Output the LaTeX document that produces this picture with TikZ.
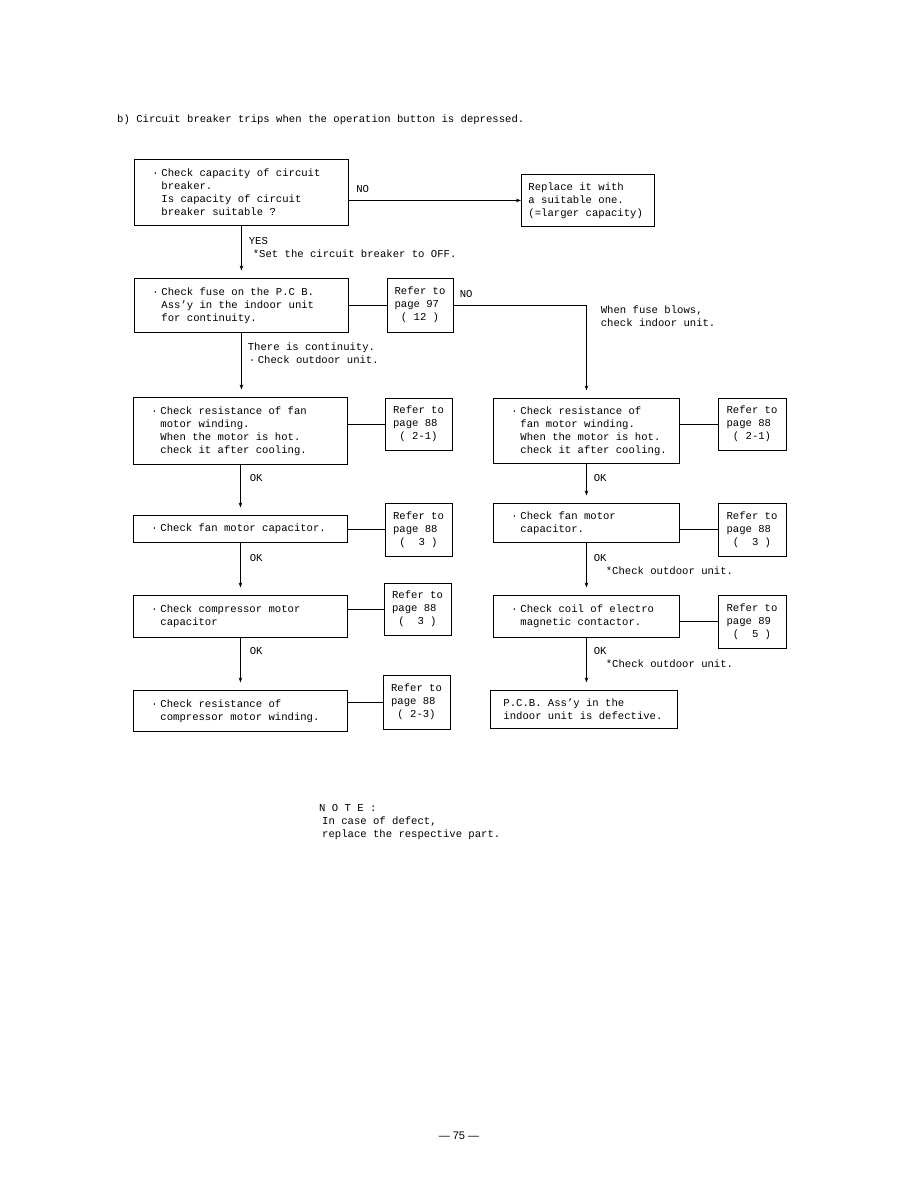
\documentclass[tikz,border=0pt]{standalone}
\usepackage{fontspec}
\setmainfont{Liberation Mono}[WordSpace={1,0,0}]
\newfontfamily\pnfont{Liberation Sans}
\usetikzlibrary{arrows.meta,calc,positioning}
\renewcommand{\normalsize}{\fontsize{10.6}{13}\selectfont}
\newcommand{\dotb}{\makebox[9pt][l]{·}}
\newcommand{\bul}{\hspace*{8pt}\dotb}
\newcommand{\ind}{\hspace*{17pt}}

\begin{document}
\normalsize
\begin{tikzpicture}[x=1pt,y=-1pt,>=Stealth,
  font=\normalsize,
  box/.style={draw,line width=0.9pt,anchor=north west,align=flush left,inner xsep=10pt,inner ysep=0pt},
  refbox/.style={draw,line width=0.9pt,align=left,minimum width=67pt,minimum height=53pt,inner sep=0pt},
  lbl/.style={anchor=north west,align=left,inner sep=0pt},
  link/.style={line width=0.8pt},
  arr/.style={link,-{Stealth[length=5pt,width=3.5pt]}},
  gap/.style={arr,shorten >=7.5pt}]
  \useasboundingbox (0,0) rectangle (918,1188);

  % heading
  \node[anchor=west,inner sep=0pt] (title) at (117,120)
        {b) Circuit breaker trips when the operation button is depressed.};

  % top row: breaker capacity
  \node[box,text width=194pt,minimum height=66pt] (cap) at (134,159)
        {\bul Check capacity of circuit\\\ind breaker.\\\ind Is capacity of circuit\\\ind breaker suitable ?};
  \node[box,inner xsep=7pt,text width=119pt,minimum height=52pt] (rep) at (521,174)
        {Replace it with\\a suitable one.\\(=larger capacity)};
  \draw[arr] (cap.east |- rep.west) -- (rep.west)
        node[pos=0,anchor=base west,inner sep=0pt,xshift=7pt,yshift=8pt] (no1) {NO};

  % fuse on the P.C.B.
  \node[box,text width=194pt,minimum height=54pt] (fuse) at (134,278)
        {\bul Check fuse on the P.C B.\\\ind Ass'y in the indoor unit\\\ind for continuity.};
  \node[refbox,minimum width=66pt,minimum height=54pt] (r97) at (420,305)
        {Refer to\\page 97\\~( 12 )};
  \draw[gap] (cap.south) -- (cap.south |- fuse.north)
        node[pos=0,lbl,xshift=7pt,yshift=-11.5pt] (yes) {YES\\\hspace*{4pt}*Set the circuit breaker to OFF.};
  \draw[link] (fuse.east |- r97.west) -- (r97.west);

  % left column
  \node[box,text width=194pt,minimum height=67pt] (fanl) at (133,397)
        {\bul Check resistance of fan\\\ind motor winding.\\\ind When the motor is hot.\\\ind check it after cooling.};
  \node[refbox,minimum height=52pt] (rl1) at (418.5,424) {Refer to\\page 88\\~( 2-1)};
  \node[box,text width=194pt,minimum height=27pt] (capl) at (133,515)
        {\bul Check fan motor capacitor.};
  \node[refbox] (rl2) at (418.5,529.5) {Refer to\\page 88\\~(~~3~)};
  \node[box,text width=194pt,minimum height=42pt] (comp) at (133,595)
        {\bul Check compressor motor\\\ind capacitor};
  \node[refbox,minimum height=52pt] (rl3) at (417.5,609) {Refer to\\page 88\\~(~~3~)};
  \node[box,text width=194pt,minimum height=41pt] (wind) at (133,690)
        {\bul Check resistance of\\\ind compressor motor winding.};
  \node[refbox,minimum height=54pt] (rl4) at (416.5,702) {Refer to\\page 88\\~( 2-3)};

  % right column
  \node[box,text width=166pt,minimum height=65pt] (fanr) at (493,398)
        {\bul Check resistance of\\\ind fan motor winding.\\\ind When the motor is hot.\\\ind check it after cooling.};
  \node[refbox,minimum width=68pt,minimum height=52pt] (rr1) at (752,424) {Refer to\\page 88\\~( 2-1)};
  \node[box,text width=166pt,minimum height=39pt] (capr) at (493,503)
        {\bul Check fan motor\\\ind capacitor.};
  \node[refbox,minimum width=68pt] (rr2) at (752,529.5) {Refer to\\page 88\\~(~~3~)};
  \node[box,text width=166pt,minimum height=42pt] (coil) at (493,595)
        {\bul Check coil of electro\\\ind magnetic contactor.};
  \node[refbox,minimum width=68pt] (rr3) at (752,621.5) {Refer to\\page 89\\~(~~5~)};
  \node[box,inner xsep=13pt,text width=161pt,minimum height=38pt] (pcb) at (490,690)
        {P.C.B. Ass'y in the\\indoor unit is defective.};

  % NO branch of the fuse check
  \draw[gap] (r97.east) -| (fanr.north)
        node[pos=0,anchor=base west,inner sep=0pt,xshift=6pt,yshift=8pt] (no2) {NO}
        node[pos=0.5,lbl,xshift=14pt] (blow) {When fuse blows,\\check indoor unit.};

  % left flow
  \draw[gap] (fuse.south) -- (fuse.south |- fanl.north)
        node[pos=0,lbl,xshift=6pt,yshift=-9.5pt] (cont) {There is continuity.\\\hspace*{1pt}\dotb Check outdoor unit.};
  \draw[gap] (fanl.south) -- (fanl.south |- capl.north)
        node[pos=0,lbl,xshift=9pt,yshift=-9.5pt] (ok1) {OK};
  \draw[gap] (capl.south) -- (capl.south |- comp.north)
        node[pos=0,lbl,xshift=9pt,yshift=-11pt] (ok2) {OK};
  \draw[gap] (comp.south) -- (comp.south |- wind.north)
        node[pos=0,lbl,xshift=9pt,yshift=-9pt] (ok3) {OK};
  \draw[link] (fanl.east |- rl1.west) -- (rl1.west);
  \draw[link] (capl.east |- rl2.west) -- (rl2.west);
  \draw[link] (comp.east |- rl3.west) -- (rl3.west);
  \draw[link] (wind.east |- rl4.west) -- (rl4.west);

  % right flow
  \draw[gap] (fanr.south) -- (fanr.south |- capr.north)
        node[pos=0,lbl,xshift=7pt,yshift=-10pt] (ok4) {OK};
  \draw[gap] (capr.south) -- (capr.south |- coil.north)
        node[pos=0,lbl,xshift=7pt,yshift=-11pt] (ok5) {OK\\\hspace*{12pt}*Check outdoor unit.};
  \draw[gap] (coil.south) -- (coil.south |- pcb.north)
        node[pos=0,lbl,xshift=7pt,yshift=-9pt] (ok6) {OK\\\hspace*{12pt}*Check outdoor unit.};
  \draw[link] (fanr.east |- rr1.west) -- (rr1.west);
  \draw[link] (capr.east |- rr2.west) -- (rr2.west);
  \draw[link] (coil.east |- rr3.west) -- (rr3.west);

  % note and page number
  \node[lbl] (note) at (319,804)
        {N~O~T~E~:\\\hspace*{3pt}In case of defect,\\\hspace*{3pt}replace the respective part.};
  \node[font=\pnfont\fontsize{11}{13}\selectfont] (pg) at (459,1136) {— 75 —};
\end{tikzpicture}
\end{document}
